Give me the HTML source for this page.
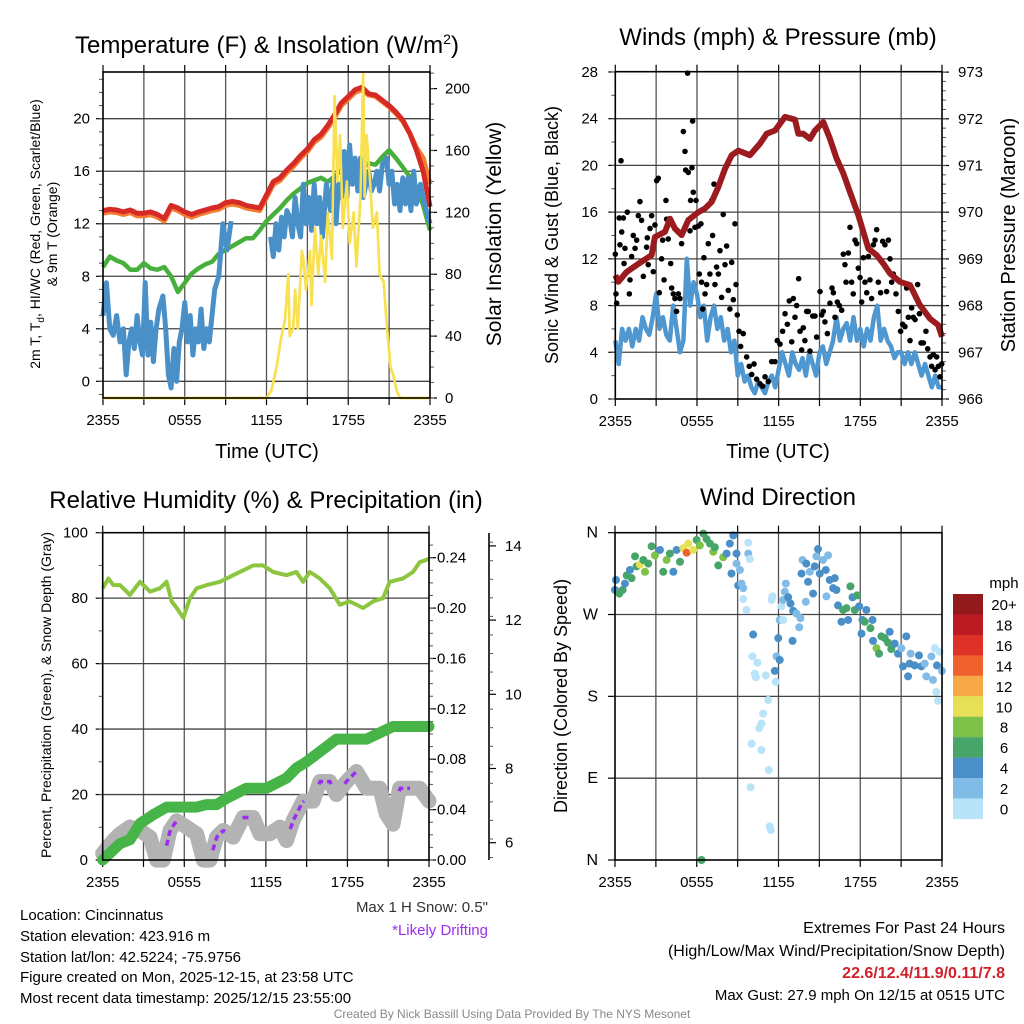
<!DOCTYPE html>
<html><head><meta charset="utf-8">
<style>
html,body{margin:0;padding:0;background:#fff;}
svg{display:block;font-family:"Liberation Sans",Arial,sans-serif;}
</style></head>
<body>
<svg id="root" width="1024" height="1024" viewBox="0 0 1024 1024" xmlns="http://www.w3.org/2000/svg">
<rect x="0" y="0" width="1024" height="1024" fill="#fff"/>
<text x="267" y="53" font-size="24" text-anchor="middle">Temperature (F) &amp; Insolation (W/m<tspan dy="-9" font-size="14">2</tspan><tspan dy="9">)</tspan></text>
<text x="778" y="45" font-size="24" text-anchor="middle">Winds (mph) &amp; Pressure (mb)</text>
<text x="266" y="508" font-size="24" text-anchor="middle">Relative Humidity (%) &amp; Precipitation (in)</text>
<text x="778" y="505" font-size="24" text-anchor="middle">Wind Direction</text>

<text x="267" y="458" font-size="20" text-anchor="middle">Time (UTC)</text>
<text x="778" y="458" font-size="20" text-anchor="middle">Time (UTC)</text>
<text transform="translate(40,234) rotate(-90)" font-size="14" text-anchor="middle">2m T, T<tspan dy="4" font-size="10">d</tspan><tspan dy="-4">, HI/WC (Red, Green, Scarlet/Blue)</tspan></text>
<text transform="translate(57,234) rotate(-90)" font-size="14" text-anchor="middle">&amp; 9m T (Orange)</text>
<text transform="translate(501,234) rotate(-90)" font-size="21" text-anchor="middle">Solar Insolation (Yellow)</text>
<text transform="translate(558,235) rotate(-90)" font-size="18" text-anchor="middle">Sonic Wind &amp; Gust (Blue, Black)</text>
<text transform="translate(1015,235) rotate(-90)" font-size="20" text-anchor="middle">Station Pressure (Maroon)</text>
<text transform="translate(51,695) rotate(-90)" font-size="14" text-anchor="middle">Percent, Precipitation (Green), &amp; Snow Depth (Gray)</text>
<text transform="translate(567,696) rotate(-90)" font-size="18" text-anchor="middle">Direction (Colored By Speed)</text>

<g font-size="15">
<text x="20" y="920">Location: Cincinnatus</text>
<text x="20" y="941">Station elevation: 423.916 m</text>
<text x="20" y="962">Station lat/lon: 42.5224; -75.9756</text>
<text x="20" y="982">Figure created on Mon, 2025-12-15, at 23:58 UTC</text>
<text x="20" y="1003">Most recent data timestamp: 2025/12/15 23:55:00</text>
</g>
<text x="488" y="912" font-size="15" text-anchor="end" fill="#333">Max 1 H Snow: 0.5"</text>
<text x="488" y="935" font-size="15" text-anchor="end" fill="#9a2ef0">*Likely Drifting</text>
<g font-size="16" text-anchor="end">
<text x="1005" y="933">Extremes For Past 24 Hours</text>
<text x="1005" y="956">(High/Low/Max Wind/Precipitation/Snow Depth)</text>
<text x="1005" y="978" fill="#d0202a" font-weight="bold">22.6/12.4/11.9/0.11/7.8</text>
<text x="1005" y="1000" font-size="15">Max Gust: 27.9 mph On 12/15 at 0515 UTC</text>
</g>
<text x="512" y="1018" font-size="12" fill="#888" text-anchor="middle">Created By Nick Bassill Using Data Provided By The NYS Mesonet</text>
</svg>
<script>
// ---------- DATA ----------
const timeLabels = ["2355","0555","1155","1755","2355"];
// Panel 1 (uniform 0.5 h sampling)
const tempRed = [13.0,13.1,13.05,12.9,13.05,12.8,12.8,12.9,12.7,12.4,13.4,13.2,12.9,12.7,12.9,13.05,13.2,13.3,13.6,13.7,13.6,13.4,13.3,13.2,14.2,15.2,15.5,16.1,16.6,17.2,17.7,18.4,18.8,19.5,20.3,21.2,21.7,22.2,22.4,21.9,21.8,21.4,21.0,20.5,19.9,18.9,17.6,16.0,13.3];
const temp9m = [12.8,12.9,12.85,12.7,12.85,12.6,12.6,12.7,12.5,12.2,13.2,13.0,12.7,12.5,12.7,12.85,13.0,13.1,13.4,13.5,13.4,13.2,13.1,13.0,14.0,15.0,15.3,15.9,16.4,17.0,17.5,18.2,18.6,19.3,20.1,21.0,21.5,22.0,22.2,21.8,21.7,21.3,20.9,20.4,19.8,18.9,17.8,17.0,15.0];
const dewGreen = [8.7,9.5,9.2,9.0,8.5,8.5,9.0,8.6,8.5,8.7,8.0,6.8,7.5,8.2,8.6,8.9,9.1,9.7,10.0,10.3,10.6,10.9,10.9,11.5,12.2,12.7,13.2,13.8,14.3,14.7,15.1,15.3,15.5,15.2,15.6,16.1,16.1,16.3,16.2,16.6,16.5,17.1,17.6,17.0,16.3,15.6,14.8,13.4,11.5];
const chillHours = [0,0.25,0.5,0.75,1,1.25,1.5,1.7,1.9,2.1,2.3,2.5,2.7,2.9,3.1,3.3,3.5,3.7,3.9,4.1,4.4,4.6,4.8,5.0,5.2,5.4,5.6,5.8,6.0,6.2,6.4,6.6,6.8,7.0,7.2,7.4,7.6,7.8,8.0,8.2,8.5,8.8,9.1,9.4,9.5,12.3,12.5,12.7,12.9,13.1,13.3,13.5,13.7,13.9,14.1,14.3,14.5,14.7,14.9,15.1,15.3,15.5,15.7,15.9,16.1,16.4,16.7,16.9,17.1,17.3,17.5,17.7,17.9,18.1,18.3,18.5,18.7,18.9,19.1,19.3,19.5,19.7,19.9,20.1,20.3,20.5,20.8,21.0,21.2,21.4,21.6,21.8,22.0,22.2,22.4,22.6,22.8,23.0,23.3,23.6,24];
const chillBlue = [5,7.5,4,3.5,5,3,4,0.5,3,4,2.5,5,3,2,7.5,2,4.5,1.5,4,5.5,6.5,4,0.5,-0.5,2.5,0,3,4,6,3,5,2,4,3,5.5,2.5,4,3,5,7,8,12,10,12.2,null,11,9.5,12,10,12.5,11,13,12.5,11,14,12,11,15,12,14,11.5,15,12,14,11,15,13,15.5,12,15,14,17.5,14,18,15,17,14.5,17,14,15,16,14.5,15,16,14.5,16.5,17,15,16,13.5,15,13,15.5,13.5,15.5,13,16,13.5,15,13.5,12];
const solarHours = [0,12.0,12.37,12.74,13.1,13.35,13.6,13.7,13.96,14.1,14.3,14.6,14.7,14.9,15.2,15.3,15.55,15.8,16.0,16.3,16.5,16.8,17.0,17.2,17.4,17.6,17.9,18.1,18.4,18.6,18.9,19.1,19.2,19.35,19.6,19.8,20.1,20.3,20.6,20.8,21.1,21.3,21.55,21.8,24];
const solarValues = [0,0,5,20,40,50,80,40,45,70,45,95,90,70,95,60,110,80,105,75,120,90,195,140,170,110,140,100,120,85,130,210,130,170,140,110,120,80,75,50,20,15,5,0,0];
// Panel 2
const sonicWind = [5,3,6,5,6,4.5,6,5,7,6,5.5,7,9,6,7,5.5,5,8,6,4,5,12,8,10,9,7,8,5,7,8,6,7,5,6,4,5,2,3,1.5,2,1,0.5,1.5,1,0.5,1.5,2,1,2.5,4,3,2,4,3,2.5,3.5,2,4,3,2,4,4.5,3,4,5,7,5,6,6.5,5,7,5,6,4.5,6,5,7,8,5,6,5,4.5,3.5,4,4,3,4,3,4,3,2,3,2,1,2,1,1];
const pressHours = [0,0.22,0.83,1.57,2.3,2.67,2.91,3.65,4.02,4.38,4.87,5.36,6.1,6.59,7.08,7.57,8.06,8.55,9.04,9.89,10.63,11.12,11.73,12.47,13.2,13.44,13.81,14.3,14.67,15.28,15.77,16.26,16.75,17.24,17.85,18.22,18.59,19.2,19.69,20.18,20.91,21.65,22.38,23.12,23.73,24];
const pressValues = [968.65,968.51,968.72,968.87,969.01,969.08,969.47,969.58,969.86,969.65,969.51,969.83,970.0,970.08,970.22,970.54,970.93,971.22,971.32,971.22,971.47,971.68,971.75,972.04,971.98,971.68,971.68,971.57,971.75,971.93,971.57,971.15,970.83,970.43,969.94,969.58,969.22,969.08,968.9,968.69,968.51,968.44,968.01,967.72,967.58,967.33];
const gustHours = [0,0.05,0.1,0.42,0.29,0.59,0.47,0.34,0.71,0.64,0.88,1.03,1.08,1.2,1.32,1.45,1.57,1.69,1.81,1.93,2.06,2.18,2.3,2.35,2.42,2.55,2.67,2.79,2.91,3.04,3.16,3.23,3.4,3.48,3.58,3.72,3.77,3.89,4.07,4.14,4.26,4.38,4.5,4.63,4.75,4.87,5.0,5.12,5.17,5.36,5.31,5.49,5.53,5.63,5.68,5.73,5.85,5.93,6.1,6.17,6.29,6.34,6.42,6.51,6.59,6.71,6.83,6.95,7.08,7.15,7.25,7.32,7.44,7.57,7.69,7.81,7.93,8.06,8.18,8.3,8.42,8.55,8.67,8.79,8.87,8.96,9.09,9.21,9.4,9.65,9.84,10.02,10.19,10.38,10.63,10.82,11.0,11.24,11.49,11.73,11.9,12.1,12.29,12.47,12.64,12.78,12.96,13.08,13.2,13.32,13.47,13.57,13.69,13.81,13.93,14.06,14.18,14.3,14.5,14.67,14.79,15.04,15.16,15.28,15.4,15.58,15.77,15.92,16.02,16.14,16.31,16.46,16.63,16.75,16.87,16.95,17.12,17.24,17.36,17.48,17.61,17.73,17.85,17.98,18.1,18.22,18.34,18.47,18.59,18.71,18.83,18.96,19.08,19.2,19.32,19.49,19.64,19.81,19.93,20.06,20.18,20.3,20.42,20.62,20.79,20.96,21.11,21.28,21.4,21.53,21.65,21.77,21.89,22.02,22.21,22.34,22.46,22.63,22.82,22.95,23.12,23.24,23.36,23.49,23.61,23.73,23.85,23.98];
const gustValues = [12.4,9,8.2,20.4,15.5,15.5,14.3,13.2,12.9,11.6,16,9,10.2,12.2,14,12.9,13.6,15.7,16.9,15.3,10.5,11.9,13,13.8,11.5,14.6,15.7,10.9,14.9,18.7,18.9,9.1,12,13.6,10.2,17,15.4,13.7,11.6,9.5,9,8.6,7.5,9,8.6,13.3,22.9,21.2,19.6,19.4,27.9,14.4,17,19.8,23.8,17.7,14.7,17,14.8,10.7,15,10,7.7,12.1,9,9.8,13.3,10.7,17,14,18.4,9.8,11.3,10.7,12.7,8.7,15.8,11.5,13.1,9.3,7.7,11.7,8.5,15,9.8,7.2,5.8,4.5,5.6,3.6,2.8,2.1,3,1.7,1.3,1.1,1.9,1.5,3.2,3.2,5,4.7,5.8,7.3,6.4,8.4,4.9,8.6,7,8,10.3,5.8,4.2,6.1,5,7.5,7.5,4.1,7.1,7.1,5.3,9.2,7.2,7.5,6.6,5.6,8.2,9.5,9.1,7,8.3,8,7.6,12.4,11.5,10,12.5,14.7,10,9,13.6,13.3,11.2,10.4,8.3,12.1,10,9.1,12.2,10.2,8.6,13.2,13.6,14.5,10,9.1,13.5,13.2,9.2,13.6,12,10,10.7,9,7.5,5.8,6.4,6.2,9.5,7,5,7.8,7,6.8,9.8,7.3,4.8,4.8,5.8,4.3,3.6,2.8,3.8,2.5,3.6,2.8,1.9,3];
// Panel 3
const rhHours = [0,0.42,0.78,1.27,1.76,2.0,2.74,3.48,4.21,4.70,5.07,5.44,5.93,6.42,6.91,7.64,8.62,9.60,11.07,11.8,12.54,13.52,14.25,14.74,15.23,15.97,16.70,17.44,18.17,19.15,19.89,20.62,21.11,22.09,22.82,23.31,24];
const rhValues = [83,86,84,84,82,81,85,82,83,85,79,77,74,80,83,84,85,87,90,90,88,87,88,85,88,86,83,78,79,77,79,80,85,86,88,91,92];
const precipHours = [0,1.27,2.0,2.74,3.72,4.70,6.91,7.64,8.38,9.11,10.58,12.05,13.52,14.25,14.99,15.97,17.19,19.40,20.38,21.35,24];
const precipValues = [0,0.013,0.016,0.029,0.036,0.042,0.042,0.044,0.044,0.049,0.057,0.057,0.065,0.073,0.078,0.086,0.096,0.096,0.101,0.106,0.106];
const snowHours = [0,0.78,1.27,2.0,2.74,3.48,3.97,4.46,4.95,5.44,6.17,6.91,7.4,7.89,8.38,8.87,9.6,10.33,11.07,11.56,12.29,13.03,13.52,14.0,14.74,15.48,15.97,16.7,17.19,17.93,18.66,19.4,20.38,20.86,21.35,21.84,23.31,24];
const snowDepth = [5.71,6.06,6.24,6.42,6.33,6.15,5.53,5.53,6.33,6.59,6.42,6.24,5.53,5.53,6.15,6.33,6.15,6.68,6.68,6.24,6.24,6.42,6.06,6.59,7.12,7.12,7.65,7.65,7.30,7.65,7.92,7.47,7.47,6.77,6.50,7.47,7.47,7.12];
const driftStart = [4.7,8.1,10.3,13.8,15.9,17.8,21.8];
const driftEnd = [5.4,9.0,11.0,14.8,16.8,18.6,22.6];
// Panel 4
const dirHours = [0,0.07,0.32,0.56,0.73,0.86,1.1,1.22,1.47,1.59,1.83,2.08,2.2,2.44,2.69,2.93,3.3,3.54,3.79,4.03,4.28,4.52,4.77,5.01,5.26,5.38,5.74,5.99,6.23,6.48,6.72,6.97,7.21,7.33,7.58,7.94,8.19,8.43,8.68,8.92,8.55,8.92,9.04,9.29,9.41,9.17,9.78,9.78,9.9,9.41,9.65,10.14,10.09,10.45,10.26,10.34,11.07,11.73,11.8,11.85,12.09,11.24,10.87,10.75,10.58,10.02,10.75,11.29,9.95,11.36,11.44,6.35,11.98,12.09,12.34,12.22,11.56,11.49,12.34,12.46,12.54,12.71,12.88,13.03,13.08,13.32,13.52,13.61,13.69,13.76,14.0,14.04,14.17,14.3,14.54,14.66,14.78,14.9,15.03,15.27,15.47,15.52,15.64,15.76,16.01,16.13,16.25,16.37,16.62,16.74,16.99,17.11,17.28,17.43,17.6,17.77,17.92,18.09,18.16,18.33,18.45,18.75,18.9,18.94,19.19,19.38,19.55,19.8,20.04,20.16,20.28,20.53,20.77,21.02,21.14,21.38,21.51,21.63,21.7,22.0,22.31,22.48,22.73,22.85,23.22,23.34,23.47,23.58,23.63,23.71,23.83,24];
const dirDegrees = [297,308,293,297,304,313,319,310,334,323,325,330,317,326,345,335,341,317,330,337,317,341,328,343,338,348,341,352,346,359,353,348,339,344,324,333,337,348,357,337,315,326,302,304,299,319,349,337,331,287,275,248,224,217,205,201,203,208,196,224,220,176,161,150,145,128,121,99,80,37,33,0,244,264,264,279,290,286,286,295,304,289,282,241,274,271,256,266,315,330,284,326,306,317,293,323,334,342,315,330,319,290,335,308,299,310,297,280,262,275,277,264,301,289,275,291,279,249,264,262,275,255,264,241,233,227,246,244,239,251,232,238,227,233,213,246,202,216,227,214,225,213,216,202,224,198,233,185,214,175,229,208];
const dirSpeed = [4,4,6,6,4,6,4,6,6,6,10,6,8,6,6,8,4,6,8,6,4,4,6,10,14,10,10,6,8,6,6,6,8,6,6,8,4,4,4,4,4,2,4,2,2,2,0,2,0,0,0,4,0,0,0,0,0,4,0,2,4,0,0,0,0,0,0,0,0,0,0,6,4,2,0,0,0,0,2,2,2,4,4,4,4,2,2,2,4,2,2,4,4,2,4,4,2,4,4,2,4,2,2,4,4,4,4,4,4,6,6,4,6,4,6,6,4,4,4,6,4,6,4,4,8,6,6,6,6,4,6,4,4,2,4,4,4,4,2,4,4,4,2,2,2,2,0,0,4,0,0,2];
const speedLabels = ["0","2","4","6","8","10","12","14","16","18","20+"];
const speedColors = ["#b9e3f9","#81bce6","#4a8fc8","#48a56a","#7fc24a","#e6e057","#f6a746","#f0622d","#de3127","#bd1b24","#921a1c"];

// ---------- HELPERS ----------
const NS = "http://www.w3.org/2000/svg";
const root = document.getElementById("root");
function el(tag, attrs, parent){
  const e = document.createElementNS(NS, tag);
  for (const k in attrs) e.setAttribute(k, attrs[k]);
  (parent||root).appendChild(e);
  return e;
}
function grp(name){
  const g = el("g", {});
  
  
  return g;
}
function xScale(P){ return h => P.x0 + h/24*(P.x1-P.x0); }
function pathFrom(xs, ys){
  let d = "", pen = false;
  for (let i=0;i<xs.length;i++){
    if (ys[i]===null || ys[i]===undefined){ pen=false; continue; }
    d += (pen?"L":"M") + xs[i].toFixed(1) + "," + ys[i].toFixed(1);
    pen = true;
  }
  return d;
}
function uniformHours(n){ const a=[]; for(let i=0;i<n;i++) a.push(i*24/(n-1)); return a; }
function frame(P, name){
  const g = grp(name);
  for (let k=1;k<8;k++){
    const x = xScale(P)(k*3);
    const l = el("line",{x1:x,x2:x,y1:P.y0,y2:P.y1,stroke:"#555","stroke-width":1.3},g);
    
    
    const t = el("line",{x1:x,x2:x,y1:P.y1,y2:P.y1+7,stroke:"#000","stroke-width":1.2},g);
    
    
    const t2 = el("line",{x1:x,x2:x,y1:P.y0,y2:P.y0-7,stroke:"#000","stroke-width":1.2},g);
    
    
  }
  for (let k=0;k<timeLabels.length;k++){
    const h = k*6, x = xScale(P)(h);
    const t = el("text",{x:x,y:P.y1+27,"font-size":15,"text-anchor":"middle"},g);
    t.textContent = timeLabels[k];
    
    
  }
  [0,24].forEach(h=>{
    const x=xScale(P)(h);
    const a = el("line",{x1:x,x2:x,y1:P.y1,y2:P.y1+7,stroke:"#000","stroke-width":1.2},g);
    
    
    const b = el("line",{x1:x,x2:x,y1:P.y0,y2:P.y0-7,stroke:"#000","stroke-width":1.2},g);
    
    
  });
  return g;
}
function border(P,name){
  const r = el("rect",{x:P.x0,y:P.y0,width:P.x1-P.x0,height:P.y1-P.y0,fill:"none",stroke:"#000","stroke-width":1.6});
  
  
}
function yAxis(g, P, vals, yf, labels, side, minorVals, grid, fs, labelX){
  vals.forEach((v,i)=>{
    const y = yf(v);
    if (grid && y>P.y0+1 && y<P.y1-1){
      const gl = el("line",{x1:P.x0,x2:P.x1,y1:y,y2:y,stroke:"#444","stroke-width":1.3},g);
      
      
    }
    const xa = side==="left"?P.x0:P.x1, dx = side==="left"?-7:7;
    const tk = el("line",{x1:xa,x2:xa+dx,y1:y,y2:y,stroke:"#000","stroke-width":1.2},g);
    
    
    const t = el("text",{x:labelX, y:y+5,"font-size":fs||15,"text-anchor":side==="left"?"end":"start"},g);
    t.textContent = labels[i];
    
    
  });
  (minorVals||[]).forEach(v=>{
    const y = yf(v);
    const xa = side==="left"?P.x0:P.x1, dx = side==="left"?-4:4;
    const tk = el("line",{x1:xa,x2:xa+dx,y1:y,y2:y,stroke:"#555","stroke-width":1},g);
    
    
  });
}
function range(a,b,s){ const r=[]; for(let v=a; v<=b+1e-9; v+=s) r.push(+v.toFixed(4)); return r; }

// ---------- PANEL 1 ----------
const P1 = {x0:103,x1:430,y0:72,y1:398};
const x1f = xScale(P1);
const yT = v => 381.3 - v*13.13;
const yS = v => 398 - v*1.547;
const g1 = frame(P1,"temperature-panel");
yAxis(g1,P1,range(0,20,4),yT,range(0,20,4).map(String),"left",range(-1,23,1),true,15,90);
yAxis(g1,P1,range(0,200,40),yS,range(0,200,40).map(String),"right",range(0,210,10),false,15,445);
const hu = uniformHours(tempRed.length);
const sp = el("path",{d:pathFrom(solarHours.map(x1f),solarValues.map(yS)),fill:"none",stroke:"#f8e050","stroke-width":2.5,"stroke-linejoin":"round"},g1);


const op = el("path",{d:pathFrom(hu.map(x1f),temp9m.map(yT)),fill:"none",stroke:"#f47d32","stroke-width":5,"stroke-linejoin":"round"},g1);


const rp = el("path",{d:pathFrom(hu.map(x1f),tempRed.map(yT)),fill:"none",stroke:"#d62a27","stroke-width":5,"stroke-linejoin":"round"},g1);


const gp = el("path",{d:pathFrom(uniformHours(dewGreen.length).map(x1f),dewGreen.map(yT)),fill:"none",stroke:"#47b03c","stroke-width":4.5,"stroke-linejoin":"round"},g1);


const bp = el("path",{d:pathFrom(chillHours.map(x1f),chillBlue.map(v=>v===null?null:yT(v))),fill:"none",stroke:"#4a90c8","stroke-width":5,"stroke-linejoin":"round"},g1);


const sp2 = el("path",{d:pathFrom(solarHours.map(x1f),solarValues.map(yS)),fill:"none",stroke:"#f8e050","stroke-width":2.5,"stroke-linejoin":"round"},g1);


border(P1,"temperature-plot-border");

// ---------- PANEL 2 ----------
const P2 = {x0:615.3,x1:942,y0:71.7,y1:399};
const x2f = xScale(P2);
const yW = v => 399 - v*11.68;
const yP = v => 399 - (v-966)*46.7;
const g2 = frame(P2,"winds-panel");
yAxis(g2,P2,range(0,28,4),yW,range(0,28,4).map(String),"left",range(0,28,2),true,15,598);
yAxis(g2,P2,range(966,973,1),yP,range(966,973,1).map(String),"right",range(966,973,0.2),false,15,958);
const swp = el("path",{d:pathFrom(uniformHours(sonicWind.length).map(x2f),sonicWind.map(yW)),fill:"none",stroke:"#4f97d0","stroke-width":4.5,"stroke-linejoin":"round"},g2);


for (let i=0;i<gustHours.length;i++){
  const c = el("circle",{cx:x2f(gustHours[i]),cy:yW(gustValues[i]),r:2.8,fill:"#000"},g2);
  
  
}
const pp = el("path",{d:pathFrom(pressHours.map(x2f),pressValues.map(yP)),fill:"none",stroke:"#9b1b1e","stroke-width":6,"stroke-linejoin":"round"},g2);


border(P2,"winds-plot-border");

// ---------- PANEL 3 ----------
const P3 = {x0:102.7,x1:429,y0:532.7,y1:860};
const x3f = xScale(P3);
const yPct = v => 860 - v*3.273;
const yIn = v => 860 - v*1259.6;
const ySn = v => 842.7 - (v-6)*37.1;
const g3 = frame(P3,"humidity-panel");
yAxis(g3,P3,range(0,100,20),yPct,range(0,100,20).map(String),"left",range(0,100,10),true,15,88);
yAxis(g3,P3,range(0,0.24,0.04),yIn,["0.00","0.04","0.08","0.12","0.16","0.20","0.24"],"right",range(0,0.25,0.01),false,15,437);
const sax = el("line",{x1:489,x2:489,y1:533,y2:860,stroke:"#000","stroke-width":1.6},g3);


range(6,14,2).forEach(v=>{
  const y=ySn(v);
  const t=el("line",{x1:489,x2:496,y1:y,y2:y,stroke:"#000","stroke-width":1.2},g3);
  
  
  const tx=el("text",{x:505,y:y+5,"font-size":15},g3);
  tx.textContent=String(v);
  
  
});
range(5.6,14.2,0.5).forEach(v=>{
  const y=ySn(v);
  const t=el("line",{x1:489,x2:493,y1:y,y2:y,stroke:"#555","stroke-width":1},g3);
  
  
});
const cp = el("clipPath",{id:"p3clip"},g3);
el("rect",{x:P3.x0-8,y:P3.y0,width:P3.x1-P3.x0+16,height:P3.y1-P3.y0+8},cp);
const snp = el("path",{d:pathFrom(snowHours.map(x3f),snowDepth.map(ySn)),fill:"none",stroke:"#b3b3b3","stroke-width":15,"stroke-linejoin":"round","stroke-linecap":"round","clip-path":"url(#p3clip)"},g3);


function interpSnow(h){ for(let i=1;i<snowHours.length;i++){ if(h<=snowHours[i]){ const f=(h-snowHours[i-1])/(snowHours[i]-snowHours[i-1]); return snowDepth[i-1]+f*(snowDepth[i]-snowDepth[i-1]); } } return snowDepth[snowDepth.length-1]; }
for (let k=0;k<driftStart.length;k++){
  const hs=[],vs=[];
  for (let h=driftStart[k]; h<=driftEnd[k]+1e-6; h+=0.1){ hs.push(h); vs.push(interpSnow(h)); }
  const dp = el("path",{d:pathFrom(hs.map(x3f),vs.map(ySn)),fill:"none",stroke:"#9a2ef0","stroke-width":3.5,"stroke-dasharray":"6,4"},g3);
  
  
}
const prp = el("path",{d:pathFrom(precipHours.map(x3f),precipValues.map(yIn)),fill:"none",stroke:"#46b446","stroke-width":11,"stroke-linejoin":"round","stroke-linecap":"round"},g3);


const rhp = el("path",{d:pathFrom(rhHours.map(x3f),rhValues.map(yPct)),fill:"none",stroke:"#8cc63f","stroke-width":4,"stroke-linejoin":"round"},g3);


border(P3,"humidity-plot-border");

// ---------- PANEL 4 ----------
const P4 = {x0:615,x1:942,y0:532.7,y1:860};
const x4f = xScale(P4);
const yD = v => 860 - v*0.9092;
const g4 = frame(P4,"wind-direction-panel");
yAxis(g4,P4,[0,90,180,270,360],yD,["N","E","S","W","N"],"left",[],true,16,598);
for (let i=0;i<dirHours.length;i++){
  const idx = Math.min(10, Math.round(dirSpeed[i]/2));
  const c = el("circle",{cx:x4f(dirHours[i]),cy:yD(dirDegrees[i]),r:4,fill:speedColors[idx]},g4);
  
  
}
border(P4,"wind-direction-plot-border");
const cb = grp("speed-colorbar");
const mph = el("text",{x:1004,y:588,"font-size":15,"text-anchor":"middle"},cb);
mph.textContent="mph";


for (let k=0;k<speedLabels.length;k++){
  const j = speedLabels.length-1-k;
  const y = 594 + k*20.45;
  const r = el("rect",{x:953,y:y,width:30,height:20.6,fill:speedColors[j]},cb);
  
  
  const t = el("text",{x:1004,y:y+16,"font-size":15,"text-anchor":"middle"},cb);
  t.textContent = speedLabels[j];
  
  
}
</script>
</body></html>
